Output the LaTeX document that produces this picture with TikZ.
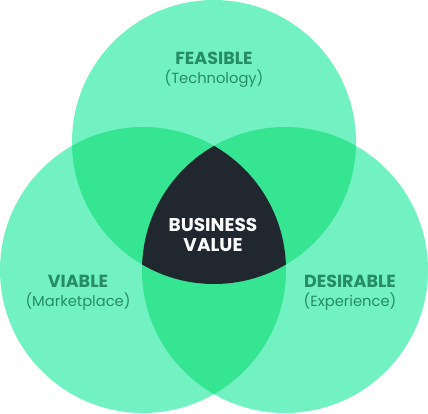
\documentclass[tikz,border=0pt]{standalone}
\usepackage{fontspec}
\setmainfont{Poppins}
\usepackage{xcolor}
\usetikzlibrary{positioning}

\definecolor{lightgreen}{HTML}{72F2C2}
\definecolor{midgreen}{HTML}{36E592}
\definecolor{darkcore}{HTML}{21272F}
\definecolor{labelgreen}{HTML}{268C64}

\tikzset{
    title/.style={font=\bfseries\fontsize{17.5}{20}\selectfont, text=labelgreen, inner sep=0pt},
    subtitle/.style={font=\fontsize{14.7}{17}\selectfont, text=labelgreen, inner sep=0pt},
    core/.style={font=\bfseries\fontsize{18.5}{20}\selectfont, text=white, align=center, inner sep=0pt}
}

\begin{document}
\begin{tikzpicture}[x=1pt, y=-1pt]
        \useasboundingbox (0, 0) rectangle (428, 413);

        \coordinate (top) at (214, 142);
        \coordinate (left) at (143, 270);
        \coordinate (right) at (285, 270);

        % the three circles
        \fill[lightgreen] (top) circle (142pt);
        \fill[lightgreen] (left) circle (143pt);
        \fill[lightgreen] (right) circle (143pt);

        % pairwise overlaps
        \begin{scope}
            \clip (top) circle (142pt);
            \fill[midgreen] (left) circle (143pt);
            \fill[midgreen] (right) circle (143pt);
        \end{scope}
        \begin{scope}
            \clip (left) circle (143pt);
            \fill[midgreen] (right) circle (143pt);
        \end{scope}

        % centre
        \begin{scope}
            \clip (top) circle (142pt);
            \clip (left) circle (143pt);
            \fill[darkcore] (right) circle (143pt);
        \end{scope}

        \node[title] (feasible) at (214, 58) {FEASIBLE};
        \node[subtitle] (technology) at (214, 79) {(Technology)};
        \node[title] (viable) at (78, 281) {VIABLE};
        \node[subtitle] (marketplace) at (78, 302) {(Marketplace)};
        \node[title] (desirable) at (350, 281) {DESIRABLE};
        \node[subtitle] (experience) at (350, 302) {(Experience)};
        \node[core] (value) at (213, 235) {BUSINESS\\VALUE};
    \end{tikzpicture}
\end{document}
